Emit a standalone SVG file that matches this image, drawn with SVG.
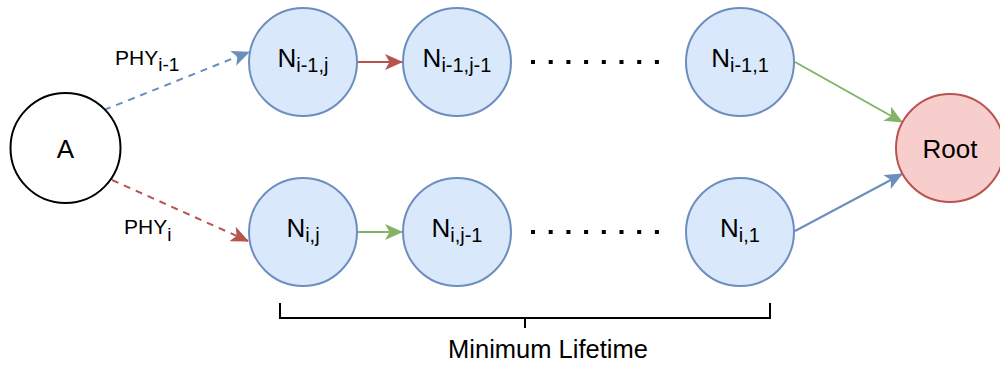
<svg xmlns="http://www.w3.org/2000/svg" width="1000" height="365" viewBox="0 0 1000 365">
<style>
text{font-family:"Liberation Sans",Arial,sans-serif;fill:#000}
.n{fill:#dae8fc;stroke:#6c8ebf;stroke-width:2}
.r{fill:#f8cecc;stroke:#b85450;stroke-width:2}
.a{fill:#fff;stroke:#000;stroke-width:2}
.lbl{font-size:26px}
.sub{font-size:20px}
.e{fill:none;stroke-width:2}
.blue{stroke:#6c8ebf}
.red{stroke:#b85450}
.green{stroke:#82b366}
.dash{stroke-dasharray:7 6}
.dots{fill:none;stroke:#000;stroke-width:4;stroke-dasharray:4 13.7}
</style>
<defs>
<marker id="mb" markerUnits="userSpaceOnUse" markerWidth="18" markerHeight="16" viewBox="0 0 18 16" refX="17" refY="8" orient="auto"><path d="M0,0 L18,8 L0,16 L4.5,8 z" fill="#6c8ebf"/></marker>
<marker id="mr" markerUnits="userSpaceOnUse" markerWidth="18" markerHeight="16" viewBox="0 0 18 16" refX="17" refY="8" orient="auto"><path d="M0,0 L18,8 L0,16 L4.5,8 z" fill="#b85450"/></marker>
<marker id="mg" markerUnits="userSpaceOnUse" markerWidth="18" markerHeight="16" viewBox="0 0 18 16" refX="17" refY="8" orient="auto"><path d="M0,0 L18,8 L0,16 L4.5,8 z" fill="#82b366"/></marker>
</defs>
<g id="connectors">
<line class="e blue dash" x1="104" y1="110" x2="249" y2="52" marker-end="url(#mb)"/>
<line class="e red dash" x1="112" y1="180" x2="248" y2="241" marker-end="url(#mr)"/>
<line class="e red" x1="358" y1="62" x2="402" y2="62" marker-end="url(#mr)"/>
<line class="e green" x1="358" y1="232" x2="402" y2="232" marker-end="url(#mg)"/>
<line class="e green" x1="795" y1="62" x2="902" y2="122" marker-end="url(#mg)"/>
<line class="e blue" x1="795" y1="231" x2="902" y2="174" marker-end="url(#mb)"/>
<line class="dots" x1="531" y1="62" x2="662" y2="62"/>
<line class="dots" x1="531" y1="232" x2="662" y2="232"/>
<text x="115" y="65" style="font-size:21px">PHY<tspan dy="6" style="font-size:19px">i-1</tspan></text>
<text x="124" y="234" style="font-size:21px">PHY<tspan dy="7" style="font-size:19px">i</tspan></text>
</g>
<g id="node-A"><circle class="a" cx="65.5" cy="148" r="55"/><text class="lbl" x="65.5" y="158" text-anchor="middle">A</text></g>
<g id="node-Ni-1j"><circle class="n" cx="303" cy="62" r="54"/><text class="lbl" x="303" y="67" text-anchor="middle">N<tspan class="sub" dy="5">i-1,j</tspan></text></g>
<g id="node-Ni-1j-1"><circle class="n" cx="457" cy="62" r="54"/><text class="lbl" x="457" y="67" text-anchor="middle">N<tspan class="sub" dy="5">i-1,j-1</tspan></text></g>
<g id="node-Ni-11"><circle class="n" cx="740" cy="62" r="54"/><text class="lbl" x="740" y="67" text-anchor="middle">N<tspan class="sub" dy="5">i-1,1</tspan></text></g>
<g id="node-Nij"><circle class="n" cx="303" cy="232" r="54"/><text class="lbl" x="303" y="237" text-anchor="middle">N<tspan class="sub" dy="5">i,j</tspan></text></g>
<g id="node-Nij-1"><circle class="n" cx="457" cy="232" r="54"/><text class="lbl" x="457" y="237" text-anchor="middle">N<tspan class="sub" dy="5">i,j-1</tspan></text></g>
<g id="node-Ni1"><circle class="n" cx="740" cy="232" r="54"/><text class="lbl" x="740" y="237" text-anchor="middle">N<tspan class="sub" dy="5">i,1</tspan></text></g>
<g id="node-Root"><circle class="r" cx="950" cy="148" r="54"/><text class="lbl" x="950" y="158" text-anchor="middle">Root</text></g>
<g id="bracket">
<path d="M280,303 V318 H770 V303 M525,318 V328" fill="none" stroke="#000" stroke-width="2"/>
<text x="548" y="358" text-anchor="middle" style="font-size:25.5px">Minimum Lifetime</text>
</g>
</svg>
